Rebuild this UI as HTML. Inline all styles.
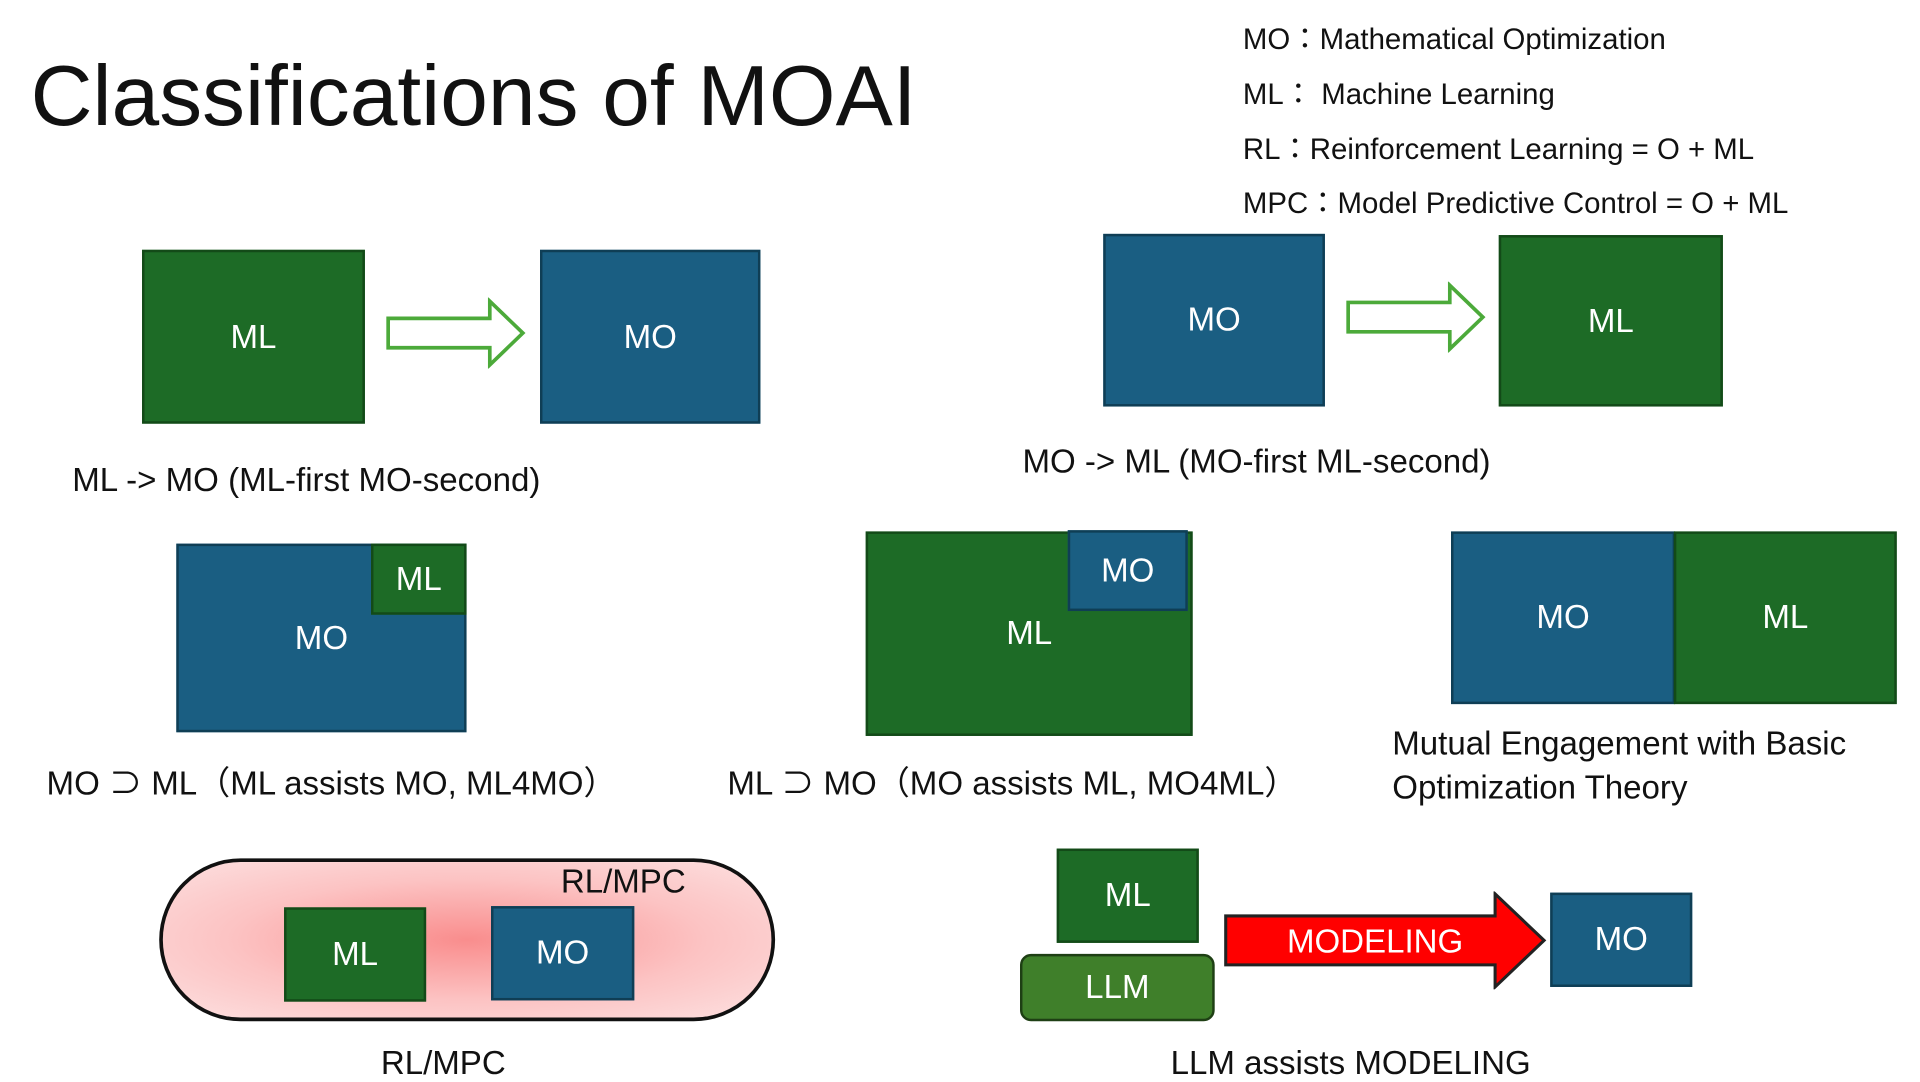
<!DOCTYPE html>
<html><head><meta charset="utf-8"><style>
html,body{margin:0;padding:0;background:#fff;width:1920px;height:1080px;overflow:hidden}
#s{position:absolute;left:0;top:0;width:1568px;height:882px;transform:scale(1.22449);transform-origin:0 0;font-family:"Liberation Sans","Noto Sans CJK JP",sans-serif;color:#111}
.b{position:absolute;box-sizing:border-box;border:2px solid #0f3e55;background:#1a5e82;color:#fff;display:flex;align-items:center;justify-content:center;font-size:27px}
.g{background:#1d6b26;border-color:#134a18}
.t{position:absolute;white-space:nowrap;font-size:27px}
.lg{position:absolute;left:1015px;font-size:24px;white-space:nowrap}
</style></head><body><div id="s">
<div class="t" style="left:25px;top:38px;font-size:70px;font-weight:300">Classifications of MOAI</div>
<div class="lg" style="top:12px">MO：Mathematical Optimization</div>
<div class="lg" style="top:57px">ML： Machine Learning</div>
<div class="lg" style="top:102px">RL：Reinforcement Learning = O + ML</div>
<div class="lg" style="top:146px">MPC：Model Predictive Control = O + ML</div>

<div class="b g" style="left:116px;top:204px;width:182px;height:142px">ML</div>
<svg style="position:absolute;left:314px;top:243px" width="118" height="58"><polygon points="3,17 86,17 86,3 113,29 86,55 86,41 3,41" fill="#fff" stroke="#4caa3a" stroke-width="3"/></svg>
<div class="b" style="left:441px;top:204px;width:180px;height:142px">MO</div>
<div class="t" style="left:59px;top:377px">ML -&gt; MO (ML-first MO-second)</div>

<div class="b" style="left:901px;top:191px;width:181px;height:141px">MO</div>
<svg style="position:absolute;left:1098px;top:230px" width="118" height="58"><polygon points="3,17 86,17 86,3 113,29 86,55 86,41 3,41" fill="#fff" stroke="#4caa3a" stroke-width="3"/></svg>
<div class="b g" style="left:1224px;top:192px;width:183px;height:140px">ML</div>
<div class="t" style="left:835px;top:362px">MO -&gt; ML (MO-first ML-second)</div>

<div class="b" style="left:144px;top:444px;width:237px;height:154px;padding-top:0"><span style="margin-top:0">MO</span></div>
<div class="b g" style="left:303px;top:444px;width:78px;height:58px">ML</div>
<div class="b g" style="left:707px;top:434px;width:267px;height:167px">ML</div>
<div class="b" style="left:872px;top:433px;width:98px;height:66px">MO</div>
<div class="b" style="left:1185px;top:434px;width:183px;height:141px">MO</div>
<div class="b g" style="left:1367px;top:434px;width:182px;height:141px">ML</div>
<div class="t" style="left:38px;top:618px">MO ⊃ ML（ML assists MO, ML4MO）</div>
<div class="t" style="left:594px;top:618px">ML ⊃ MO（MO assists ML, MO4ML）</div>
<div class="t" style="left:1137px;top:592px">Mutual Engagement with Basic</div>
<div class="t" style="left:1137px;top:628px">Optimization Theory</div>

<div style="position:absolute;left:130px;top:701px;width:503px;height:133px;box-sizing:border-box;border:3px solid #111;border-radius:67px;background:radial-gradient(ellipse at 50% 50%,#f98d8d 0%,#fcc3c3 55%,#fde0e0 100%)"></div>
<div class="t" style="left:458px;top:705px">RL/MPC</div>
<div class="b g" style="left:232px;top:741px;width:116px;height:77px">ML</div>
<div class="b" style="left:401px;top:740px;width:117px;height:77px">MO</div>
<div class="t" style="left:311px;top:853px">RL/MPC</div>

<div class="b g" style="left:863px;top:693px;width:116px;height:77px">ML</div>
<div class="b" style="left:833px;top:779px;width:159px;height:55px;background:#3f7f2a;border-color:#1e3f14;border-radius:9px">LLM</div>
<svg style="position:absolute;left:999px;top:728px" width="266" height="80"><polygon points="2,20 222,20 222,2 262,40 222,78 222,60 2,60" fill="#f00" stroke="#222" stroke-width="2.5"/><text x="124" y="50" fill="#fff" font-size="27" text-anchor="middle" font-family="Liberation Sans, sans-serif">MODELING</text></svg>
<div class="b" style="left:1266px;top:729px;width:116px;height:77px">MO</div>
<div class="t" style="left:956px;top:853px">LLM assists MODELING</div>
</div></body></html>
